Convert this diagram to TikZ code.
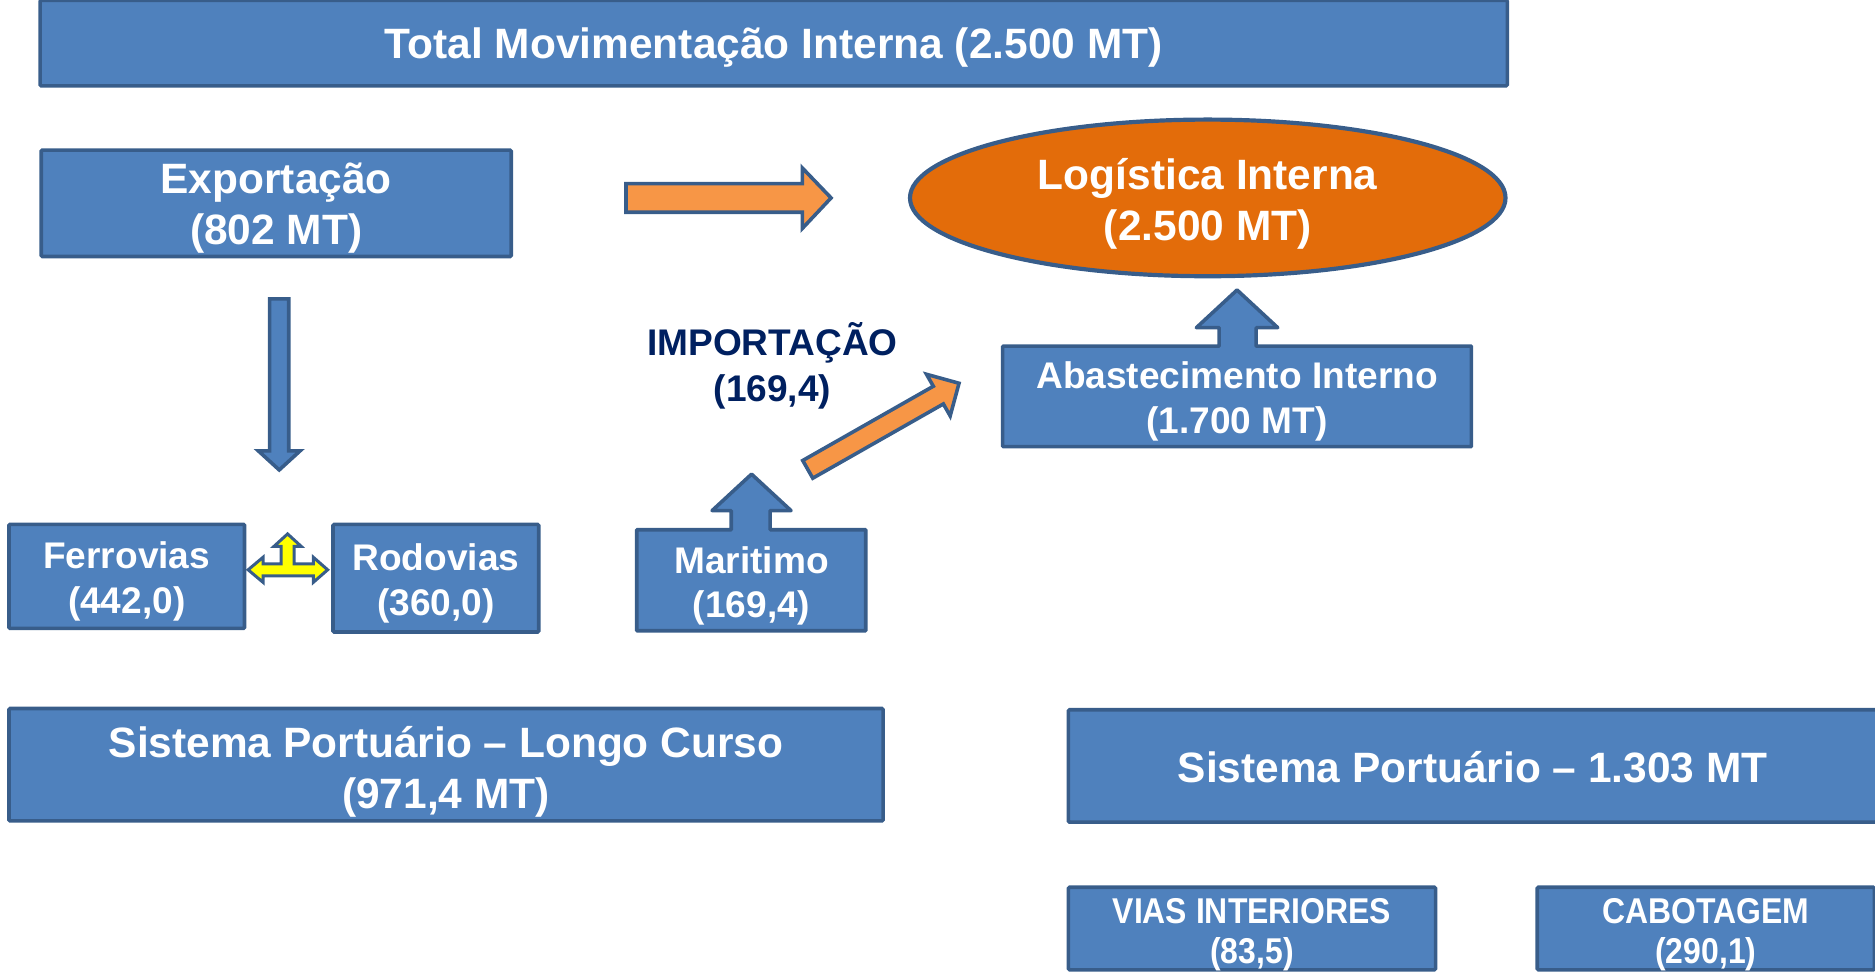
\documentclass[tikz,border=0pt]{standalone}
\usepackage{fontspec}
\usetikzlibrary{shapes.geometric}
\setmainfont{Liberation Sans}
\newfontfamily\narrowsans[FakeStretch=0.89]{Liberation Sans}
\definecolor{boxblue}{HTML}{4F81BD}
\definecolor{bdr}{HTML}{385D8A}
\definecolor{arrorange}{HTML}{F79646}
\definecolor{ellorange}{HTML}{E36C0A}
\definecolor{navy}{HTML}{002060}
\definecolor{yell}{HTML}{FFFF00}
\begin{document}
\begin{tikzpicture}[x=1pt,y=-1pt,
  box/.style={draw=bdr, fill=boxblue, line width=3pt, rounded corners=1pt, inner sep=0pt},
  bigtext/.style={inner sep=0pt, text=white, align=center, font=\bfseries\fontsize{35.5}{42}\selectfont},
  midtext/.style={inner sep=0pt, text=white, align=center, font=\bfseries\fontsize{31}{37.5}\selectfont},
  smalltext/.style={inner sep=0pt, text=white, align=center, font=\narrowsans\bfseries\fontsize{30}{34}\selectfont},
  blockarrow/.style={draw=bdr, line width=3pt, line join=miter},
  shapepath/.style={draw=bdr, fill=boxblue, line width=3pt, line join=round}]
\useasboundingbox (0,0) rectangle (1568,814.5);

% top box
\node[box, minimum width=1227, minimum height=71.5] (total) at (647,36) {};
\node[bigtext] (total-t) at ([yshift=-4pt]total.center) {Total Movimentação Interna (2.500 MT)};

% exportação
\node[box, minimum width=393, minimum height=89] (exp) at (231,170) {};
\node[bigtext] (exp-t) at ([yshift=-4pt]exp.center) {Exportação\\(802 MT)};

% ellipse
\node[ellipse, draw=bdr, fill=ellorange, line width=3.5pt, minimum width=498, minimum height=131,
  inner sep=0pt] (log) at (1010,165.5) {};
\node[bigtext] (log-t) at ([yshift=-5pt]log.center) {Logística Interna\\(2.500 MT)};

% orange right arrow
\draw[blockarrow, fill=arrorange] (523.5,153.5) -- (671,153.5) -- (671,140.5) -- (695,165.5)
  -- (671,191) -- (671,177.5) -- (523.5,177.5) -- cycle;

% down arrow
\draw[blockarrow, fill=boxblue] (225.5,250) -- (241.5,250) -- (241.5,377) -- (251,377)
  -- (233.5,393) -- (216,377) -- (225.5,377) -- cycle;

% IMPORTAÇÃO label
\node[inner sep=0pt, text=navy, align=center, font=\bfseries\fontsize{31}{39}\selectfont]
  (imp) at (646,306) {IMPORTAÇÃO\\(169,4)};

% diagonal orange arrow
\draw[blockarrow, fill=arrorange] (671.3,385.1) -- (780.5,323.0) -- (774.8,313.0) -- (802,320.5)
  -- (794.6,347.8) -- (788.9,337.8) -- (679.7,399.9) -- cycle;

% Abastecimento interno with up arrow
\draw[shapepath] (838.5,289.5) -- (1019.5,289.5) -- (1019.5,274) -- (1000.5,274) -- (1034.5,242.5)
  -- (1068.5,274) -- (1050.5,274) -- (1050.5,289.5) -- (1230.5,289.5) -- (1230.5,373.5)
  -- (838.5,373.5) -- cycle;
\node[midtext] (aba) at (1034.5,336) {Abastecimento Interno\\(1.700 MT)};

% Ferrovias / Rodovias
\node[box, minimum width=197, minimum height=87] (fer) at (106,482) {};
\node[midtext] (fer-t) at ([yshift=-4pt]fer.center) {Ferrovias\\(442,0)};
\node[box, minimum width=172, minimum height=90] (rod) at (364.5,483.5) {};
\node[midtext] (rod-t) at ([yshift=-4.5pt]rod.center) {Rodovias\\(360,0)};

% yellow left-right-up arrow
\draw[draw=bdr, fill=yell, line width=2.5pt, line join=miter]
  (207.5,476.5) -- (220,466) -- (220,471.5) -- (235,471.5) -- (235,457) -- (229,457)
  -- (240.5,446.5) -- (252,457) -- (246,457) -- (246,471.5) -- (262,471.5) -- (262,466)
  -- (274,476.5) -- (262,487) -- (262,481.5) -- (220,481.5) -- (220,487) -- cycle;

% Maritimo with up arrow
\draw[shapepath] (532.5,443) -- (611.5,443) -- (611.5,427) -- (595.5,427) -- (628.5,396.5)
  -- (661.5,427) -- (644,427) -- (644,443) -- (724,443) -- (724,527.5) -- (532.5,527.5) -- cycle;
\node[midtext] (mar) at (628.5,490) {Maritimo\\(169,4)};

% Sistema portuário boxes
\node[box, minimum width=731, minimum height=94] (longo) at (373,639.5) {};
\node[bigtext] (longo-t) at ([yshift=-6pt]longo.center) {Sistema Portuário – Longo Curso\\(971,4 MT)};
\node[box, minimum width=676, minimum height=94] (sp) at (1231.5,640.5) {};
\node[bigtext] (sp-t) at ([yshift=-1pt]sp.center) {Sistema Portuário – 1.303 MT};

% bottom boxes
\node[box, minimum width=307, minimum height=69] (vias) at (1047,776.5) {};
\node[smalltext] (vias-t) at ([yshift=-5pt]vias.center) {VIAS INTERIORES\\(83,5)};
\node[box, minimum width=282, minimum height=69] (cab) at (1426.5,776.5) {};
\node[smalltext] (cab-t) at ([yshift=-5pt]cab.center) {CABOTAGEM\\(290,1)};
\end{tikzpicture}
\end{document}
